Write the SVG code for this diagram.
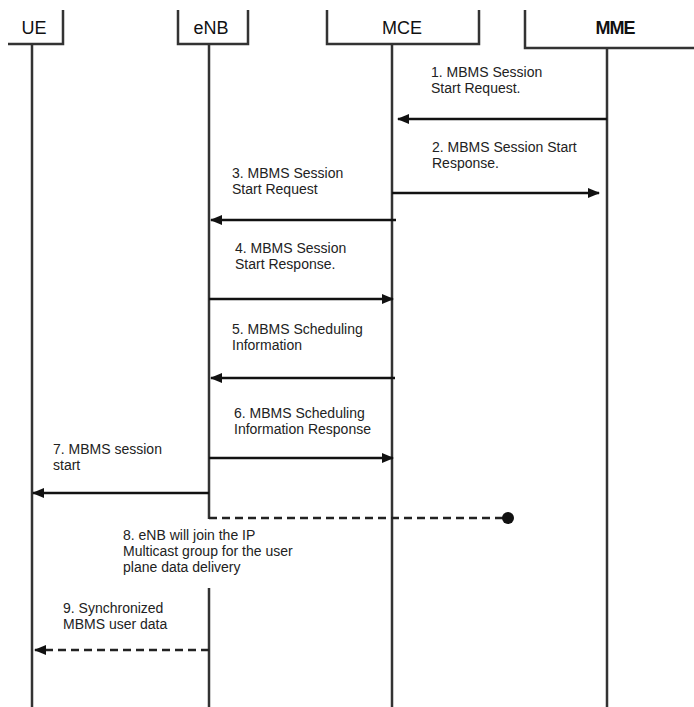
<svg xmlns="http://www.w3.org/2000/svg" width="694" height="707" viewBox="0 0 694 707">
<style>
.hdr{font-family:"Liberation Sans",Arial,sans-serif;font-size:18px;fill:#111;text-anchor:middle}
.lbl{font-family:"Liberation Sans",Arial,sans-serif;font-size:14px;fill:#222}
.box{fill:none;stroke:#333;stroke-width:2.5}
.life{stroke:#333;stroke-width:2.5;fill:none}
.msg{stroke:#111;stroke-width:2.5;fill:none}
.dash{stroke:#222;stroke-width:2.5;fill:none;stroke-dasharray:8 5}
</style>
<defs>
<marker id="ah" viewBox="0 0 12 10" refX="11" refY="5" markerWidth="12" markerHeight="10" markerUnits="userSpaceOnUse" orient="auto">
<path d="M0,0 L12,5 L0,10 Z" fill="#111"/>
</marker>
</defs>
<rect width="694" height="707" fill="#fff"/>
<g id="UE">
<path class="box" d="M8,44 H63 V10"/>
<text class="hdr" x="34" y="34">UE</text>
<line class="life" x1="32" y1="44" x2="32" y2="707"/>
</g>
<g id="eNB">
<path class="box" d="M178,10 V44 H248 V10"/>
<text class="hdr" x="211" y="34">eNB</text>
<line class="life" x1="209" y1="44" x2="209" y2="519"/>
<line class="life" x1="209" y1="588" x2="209" y2="707"/>
</g>
<g id="MCE">
<path class="box" d="M327,10 V44 H479 V10"/>
<text class="hdr" x="402" y="34">MCE</text>
<line class="life" x1="392" y1="44" x2="392" y2="707"/>
</g>
<g id="MME">
<path class="box" d="M525,10 V48 H694"/>
<text class="hdr" x="615" y="34" font-weight="bold" letter-spacing="-1">MME</text>
<line class="life" x1="607" y1="48" x2="607" y2="707"/>
</g>
<g id="connectors">
<line class="msg" x1="607" y1="119" x2="398" y2="119" marker-end="url(#ah)"/>
<line class="msg" x1="392" y1="193" x2="599" y2="193" marker-end="url(#ah)"/>
<line class="msg" x1="396" y1="220" x2="211" y2="220" marker-end="url(#ah)"/>
<line class="msg" x1="209" y1="299" x2="393" y2="299" marker-end="url(#ah)"/>
<line class="msg" x1="395" y1="378" x2="211" y2="378" marker-end="url(#ah)"/>
<line class="msg" x1="209" y1="458" x2="393" y2="458" marker-end="url(#ah)"/>
<line class="msg" x1="209" y1="493" x2="33" y2="493" marker-end="url(#ah)"/>
<line class="dash" x1="209" y1="518" x2="505" y2="518"/>
<circle cx="508" cy="518" r="6" fill="#111"/>
<line class="dash" x1="209" y1="650" x2="35" y2="650" marker-end="url(#ah)"/>
</g>
<g id="labels">
<text class="lbl" x="431" y="77">1. MBMS Session<tspan x="431" y="93">Start Request.</tspan></text>
<text class="lbl" x="432" y="152">2. MBMS Session Start<tspan x="432" y="168">Response.</tspan></text>
<text class="lbl" x="232" y="178">3. MBMS Session<tspan x="232" y="194">Start Request</tspan></text>
<text class="lbl" x="235" y="253">4. MBMS Session<tspan x="235" y="269">Start Response.</tspan></text>
<text class="lbl" x="232" y="334">5. MBMS Scheduling<tspan x="232" y="350">Information</tspan></text>
<text class="lbl" x="234" y="418">6. MBMS Scheduling<tspan x="234" y="434">Information Response</tspan></text>
<text class="lbl" x="53" y="454">7. MBMS session<tspan x="53" y="470">start</tspan></text>
<text class="lbl" x="123" y="540">8. eNB will join the IP<tspan x="123" y="556">Multicast group for the user</tspan><tspan x="123" y="572">plane data delivery</tspan></text>
<text class="lbl" x="63" y="613">9. Synchronized<tspan x="63" y="629">MBMS user data</tspan></text>
</g>
</svg>
